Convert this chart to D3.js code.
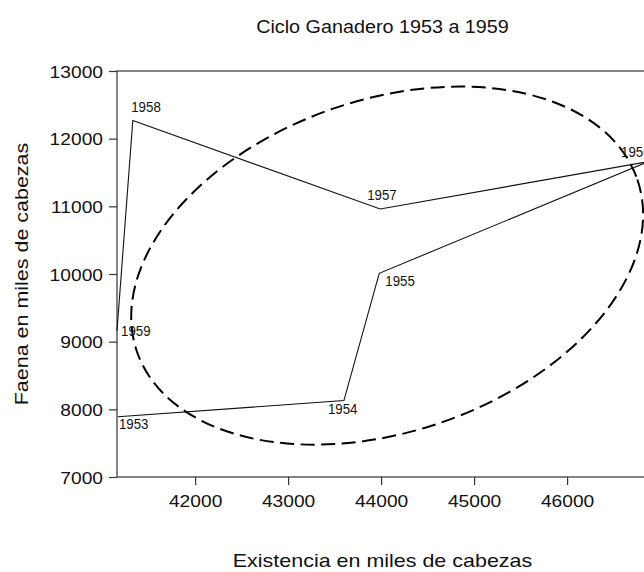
<!DOCTYPE html>
<html><head><meta charset="utf-8">
<script src="https://cdn.jsdelivr.net/npm/d3@7"></script>
<style>body{margin:0;background:#fff} svg{display:block}</style>
</head><body><script>
// ---- data ----
const years      = [1953, 1954, 1955, 1956, 1957, 1958, 1959];
const existencia = [41170, 43600, 43980, 46870, 43990, 41330, 41160];
const faena      = [7890, 8130, 10010, 11660, 10960, 12270, 9160];
const xTicks = [42000, 43000, 44000, 45000, 46000];
const yTicks = [7000, 8000, 9000, 10000, 11000, 12000, 13000];
const xDomain = [41160, 46870];
const yDomain = [7000, 13000];
const ellipseCenter = [44065, 10124];
const titleText = "Ciclo Ganadero 1953 a 1959";
const xTitle = "Existencia en miles de cabezas";
const yTitle = "Faena en miles de cabezas";

// ---- layout ----
const W = 644, H = 572;
const M = {left: 117, right: 648, top: 71, bottom: 477};
const FONT = "'Liberation Sans', Arial, sans-serif";
const svg = d3.select("body").append("svg").attr("width", W).attr("height", H)
  .style("font-family", FONT);

const x = d3.scaleLinear().domain(xDomain).range([M.left, M.right]);
const y = d3.scaleLinear().domain(yDomain).range([M.bottom, M.top]);

function stretchText(g, tx, ty, str, size, sx, anchor, rot) {
  return g.append("text")
    .attr("transform", `translate(${tx},${ty})` + (rot ? ` rotate(${rot})` : "") + ` scale(${sx},1)`)
    .attr("text-anchor", anchor || "start")
    .attr("font-size", size)
    .attr("fill", "#111")
    .text(str);
}

// frame
svg.append("rect").attr("x", M.left).attr("y", M.top)
  .attr("width", M.right - M.left).attr("height", M.bottom - M.top)
  .attr("fill", "none").attr("stroke", "#333").attr("stroke-width", 1.2);

// axes
const gx = svg.append("g").attr("transform", `translate(0,${M.bottom})`)
  .call(d3.axisBottom(x).tickValues(xTicks).tickSize(8).tickSizeOuter(0).tickFormat(d3.format("d")));
const gy = svg.append("g").attr("transform", `translate(${M.left},0)`)
  .call(d3.axisLeft(y).tickValues(yTicks).tickSize(8).tickSizeOuter(0).tickFormat(d3.format("d")));
[gx, gy].forEach(g => {
  g.select(".domain").remove();
  g.selectAll(".tick line").attr("stroke", "#333").attr("stroke-width", 1.2);
  g.attr("font-family", FONT);
});
gx.selectAll(".tick text")
  .attr("y", null).attr("dy", null)
  .attr("transform", "translate(0,30) scale(1.13,1)")
  .attr("font-size", 17).attr("fill", "#111");
gy.selectAll(".tick text")
  .attr("x", null).attr("dy", null)
  .attr("transform", "translate(-14,6) scale(1.13,1)")
  .attr("font-size", 17).attr("fill", "#111");

// ellipse annotation (dashed)
const ec = [x(ellipseCenter[0]), y(ellipseCenter[1])];
svg.append("ellipse")
  .attr("transform", `translate(${ec[0]},${ec[1]}) rotate(-19)`)
  .attr("rx", 264.6).attr("ry", 166)
  .attr("fill", "none").attr("stroke", "#000").attr("stroke-width", 2)
  .attr("stroke-dasharray", "14,6.5");

// cycle line
const pts = years.map((yr, i) => ({yr, ex: existencia[i], fa: faena[i]}));
svg.append("path").datum(pts)
  .attr("d", d3.line().x(d => x(d.ex)).y(d => y(d.fa)))
  .attr("fill", "none").attr("stroke", "#111").attr("stroke-width", 1.1);

// year labels
const labelOffset = {1953:[1,12], 1954:[-16,13], 1955:[6,13], 1956:[-27,-4.5], 1957:[-13,-9], 1958:[-1.6,-8.6], 1959:[4,5]};
pts.forEach(d => {
  const o = labelOffset[d.yr];
  stretchText(svg, x(d.ex) + o[0], y(d.fa) + o[1], String(d.yr), 14, 0.95, "start");
});

// titles
stretchText(svg, (M.left + M.right) / 2, 33, titleText, 17.5, 1.13, "middle");
stretchText(svg, (M.left + M.right) / 2, 567, xTitle, 19, 1.13, "middle");
stretchText(svg, 28, (M.top + M.bottom) / 2, yTitle, 19, 1.13, "middle", -90);
</script></body></html>
